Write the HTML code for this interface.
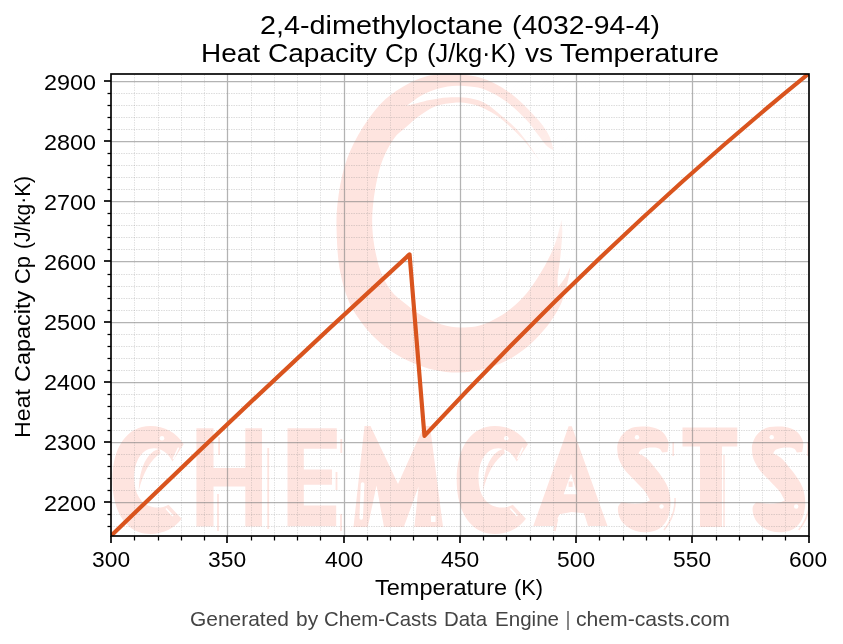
<!DOCTYPE html>
<html lang="en"><head><meta charset="utf-8"><title>2,4-dimethyloctane (4032-94-4) Heat Capacity Cp (J/kg·K) vs Temperature</title>
<style>
html,body{margin:0;padding:0;background:#fff;}
body{width:843px;height:644px;overflow:hidden;font-family:"Liberation Sans",sans-serif;}
svg{display:block;will-change:transform;}
svg text{font-family:"Liberation Sans",sans-serif;}
.tick{font-size:21.9px;fill:#000;}
.lab{font-size:21.9px;fill:#000;}
.ttl{font-size:25.5px;fill:#000;}
.foot{font-size:19.8px;fill:#444;}
</style></head><body>
<svg width="843" height="644" viewBox="0 0 843 644">
<rect x="0" y="0" width="843" height="644" fill="#ffffff"/>
<defs><clipPath id="axclip"><rect x="111" y="74" width="698" height="462"/></clipPath></defs>
<defs><filter id="soft" x="-2%" y="-2%" width="104%" height="104%"><feGaussianBlur stdDeviation="0.6"/></filter></defs>
<g id="watermark" clip-path="url(#axclip)"><g fill="#FEE4DF" filter="url(#soft)">
<path id="wm-logo" d="M553.5 150.0C552.8 147.6 551.6 140.5 549.0 135.4C546.4 130.3 543.4 126.0 537.8 119.6C532.2 113.2 522.7 103.2 515.2 97.0C507.7 90.8 500.2 86.0 492.7 82.4C485.2 78.8 478.3 76.9 470.0 75.6C461.7 74.3 450.5 74.3 443.0 74.5C435.5 74.7 431.8 74.7 425.0 76.8C418.2 78.9 410.0 82.3 402.5 86.9C395.0 91.5 387.4 96.5 380.0 104.5C372.6 112.5 364.1 124.7 358.2 135.1C352.3 145.5 347.9 155.4 344.5 166.7C341.1 178.0 338.9 191.5 337.6 202.8C336.3 214.1 336.3 223.1 336.7 234.4C337.1 245.7 337.8 259.1 339.9 270.4C342.0 281.7 345.2 293.0 349.1 302.0C353.0 311.0 358.3 318.1 363.0 324.5C367.7 330.9 372.4 335.6 377.5 340.3C382.6 345.0 387.6 349.0 393.5 352.8C399.4 356.6 406.3 360.1 413.2 363.0C420.1 365.9 427.1 368.4 434.6 370.0C442.1 371.6 450.4 372.7 458.3 372.6C466.2 372.5 474.1 371.5 482.0 369.6C489.9 367.7 498.2 364.8 505.7 361.0C513.2 357.2 520.8 352.0 527.1 346.9C533.4 341.8 539.0 335.8 543.7 330.3C548.5 324.8 552.4 318.8 555.6 313.7C558.8 308.6 560.6 305.2 562.7 299.5C564.8 293.8 567.0 284.7 568.3 279.2C569.6 273.7 570.1 268.5 570.5 266.4L570.5 266.4C569.7 268.2 567.5 273.6 565.5 277.0C563.5 280.4 559.4 285.3 558.2 287.0L558.2 287.0C558.1 285.7 557.2 284.4 557.6 279.0C558.0 273.6 559.8 262.4 560.6 254.6C561.4 246.8 562.1 237.8 562.3 232.0C562.4 226.2 561.6 221.8 561.5 219.7L561.5 219.7C560.6 223.2 558.5 233.8 556.0 241.0C553.5 248.2 550.7 254.8 546.4 262.8C542.1 270.8 535.2 282.0 530.0 289.0C524.8 296.0 520.4 300.3 515.2 305.0C510.0 309.7 504.5 313.6 498.6 317.0C492.7 320.4 485.9 323.9 479.6 325.6C473.3 327.4 467.0 327.7 460.7 327.5C454.4 327.3 448.0 326.3 441.7 324.4C435.4 322.5 428.6 319.5 422.7 316.1C416.8 312.7 411.5 308.6 406.1 304.2C400.7 299.8 394.9 296.0 390.5 290.0C386.1 284.0 382.4 277.3 379.5 268.0C376.6 258.7 373.8 245.3 372.8 234.4C371.8 223.5 372.0 214.2 373.3 202.8C374.6 191.4 377.2 176.5 380.5 166.0C383.8 155.5 388.6 146.6 393.0 140.0C397.4 133.4 402.4 130.5 407.0 126.3C411.6 122.1 415.7 118.4 420.6 115.0C425.5 111.6 430.7 108.0 436.3 106.0C441.9 104.0 448.8 103.1 454.4 102.7C460.0 102.3 465.1 102.9 470.0 103.8C474.9 104.7 478.8 106.0 483.7 108.3C488.6 110.6 494.1 113.7 499.4 117.6C504.6 121.5 510.3 126.8 515.2 131.6C520.1 136.4 524.7 141.5 528.8 146.4C532.9 151.3 538.1 158.6 540.0 161.0L540.0 161.0C537.9 157.9 531.3 147.7 527.2 142.2C523.1 136.7 519.5 132.2 515.2 127.8C511.0 123.4 506.6 120.0 501.7 116.0C496.8 112.0 491.3 106.8 486.0 103.8C480.7 100.8 476.4 99.3 470.0 98.2C463.6 97.1 454.3 97.1 447.6 97.4C440.9 97.7 436.5 98.6 429.6 100.0C422.8 101.4 410.4 105.0 406.5 106.0L406.5 106.0C409.6 103.9 418.1 96.9 425.0 93.6C431.9 90.3 440.1 87.6 447.6 86.4C455.1 85.2 463.6 85.8 470.0 86.4C476.4 87.0 479.9 87.5 485.9 90.0C491.9 92.5 499.4 96.5 506.2 101.5C513.0 106.5 521.2 114.5 526.5 120.0C531.8 125.5 534.4 130.2 537.8 134.5C541.2 138.8 544.2 143.4 546.8 146.0C549.4 148.6 552.4 149.3 553.5 150.0Z"/>
<defs><linearGradient id="tailfade" gradientUnits="userSpaceOnUse" x1="488" y1="98" x2="551" y2="161"><stop offset="0" stop-color="#fff" stop-opacity="0"/><stop offset="1" stop-color="#fff" stop-opacity="0.38"/></linearGradient><linearGradient id="tailfade2" gradientUnits="userSpaceOnUse" x1="556" y1="262" x2="562" y2="218"><stop offset="0" stop-color="#fff" stop-opacity="0"/><stop offset="1" stop-color="#fff" stop-opacity="0.55"/></linearGradient></defs>
<path d="M470 74H600V185H535Z" fill="url(#tailfade)"/>
<path d="M548 214H580V264H548Z" fill="url(#tailfade2)"/>
<g id="wm-word">
<path d="M183.6 444.2C176.5 432.5 164.5 426.0 150.5 426.0C126.5 426.0 112.4 448.0 112.4 480.0C112.4 512.0 126.5 534.0 150.5 534.0C164.0 534.0 175.0 528.0 181.6 518.8L168.5 504.7C163.5 507.5 158.0 508.2 152.5 507.0C141.0 504.5 134.2 494.0 134.2 478.0C134.2 461.0 142.0 448.2 154.0 448.2C161.5 448.2 168.0 453.0 172.5 461.4Z"/>
<path d="M196.4 428.2L213.5 428.2L213.5 468.0L245.3 468.0L245.3 428.2L262.0 428.2L262.0 526.5L245.3 526.5L245.3 486.6L213.5 486.6L213.5 526.5L196.4 526.5Z"/>
<path d="M219.1 437V455M218 494V531M268.2 448V529" fill="none" stroke="#FEE4DF" stroke-width="1.8"/>
<path d="M287.5 428.2L336.8 428.2L336.8 448.7L303.8 448.7L303.8 469.5L332.0 469.5L332.0 484.7L303.8 484.7L303.8 505.5L336.2 505.5L336.2 526.3L287.5 526.3Z"/>
<path d="M341.3 439V453M336.5 472V490M341 514V531" fill="none" stroke="#FEE4DF" stroke-width="1.8"/>
<path fill-rule="evenodd" d="M353.5 527.0L364.5 426.0L370.5 426.0L398.0 484.0L424.0 426.0L430.0 426.0L443.0 527.0ZM376.5 485.5L384.0 527.0L367.8 527.0ZM418.6 486.6L414.4 527.0L403.8 527.0Z"/>
<path d="M527.9 444.2C520.8 432.5 508.8 426.0 494.8 426.0C470.8 426.0 456.7 448.0 456.7 480.0C456.7 512.0 470.8 534.0 494.8 534.0C508.3 534.0 519.3 528.0 525.9 518.8L512.8 504.7C507.8 507.5 502.3 508.2 496.8 507.0C485.3 504.5 478.5 494.0 478.5 478.0C478.5 461.0 486.3 448.2 498.3 448.2C505.8 448.2 512.3 453.0 516.8 461.4Z"/>
<path fill-rule="evenodd" d="M533.3 526.0L568.6 426.3L571.8 426.3L607.5 526.0L588.0 526.0L584.0 513.2L571.5 512.0L559.5 514.2L554.0 526.0ZM571.0 473.3L577.2 494.3L563.7 494.3Z"/>
<path d="M568.6 481.5h4v5.4h-4z"/><path d="M557 519L554.5 531" fill="none" stroke-width="2.4" stroke="#FEE4DF"/>
<path d="M667.5 452.0C667.6 450.3 669.1 445.2 668.4 442.0C667.6 438.8 665.4 434.9 663.0 432.5C660.6 430.1 657.0 428.8 654.0 427.8C651.0 426.8 648.5 426.4 644.8 426.4C641.1 426.4 635.7 426.4 632.0 427.8C628.3 429.2 624.9 431.9 622.5 434.5C620.1 437.1 618.6 440.8 617.8 443.5C616.9 446.2 617.2 448.3 617.4 451.0C617.6 453.7 617.8 456.4 619.0 459.5C620.2 462.6 622.5 466.6 624.5 469.5C626.5 472.4 628.8 474.4 631.0 476.8C633.2 479.2 635.7 481.6 638.0 484.0C640.3 486.4 643.0 488.8 645.0 491.5C647.0 494.2 649.2 499.0 650.0 500.5L650.0 500.5C648.8 500.9 645.8 502.5 643.0 503.0C640.2 503.5 636.6 503.7 633.0 503.6C629.4 503.5 623.4 502.5 621.5 502.3L621.5 502.3C621.0 503.0 618.7 504.7 618.2 506.5C617.7 508.3 617.8 510.6 618.3 513.0C618.8 515.4 619.8 518.6 621.5 521.0C623.2 523.4 625.9 525.6 628.3 527.3C630.7 529.0 633.2 530.2 636.0 531.0C638.8 531.8 641.8 532.2 644.8 532.2C647.8 532.2 651.1 532.0 654.0 531.0C656.9 530.0 659.7 528.7 662.0 526.5C664.3 524.3 666.4 521.4 667.8 518.0C669.2 514.6 670.0 509.7 670.4 506.0C670.8 502.3 670.4 499.0 670.0 496.0C669.6 493.0 669.0 490.5 668.0 487.8C667.0 485.1 665.5 482.5 664.0 480.0C662.5 477.5 660.5 474.9 658.8 472.6C657.1 470.3 655.2 468.2 653.6 466.2C652.0 464.2 650.6 462.1 649.0 460.4C647.4 458.7 645.5 457.3 643.8 456.2C642.0 455.1 639.4 454.0 638.5 453.6L638.5 453.6C638.9 453.0 639.6 450.7 641.0 449.8C642.4 448.9 644.9 448.4 647.0 448.0C649.1 447.6 651.4 447.5 653.5 447.6C655.6 447.7 658.0 448.0 659.5 448.8C661.0 449.6 661.8 451.8 662.2 452.4Z"/>
<path d="M682.5 427.5L737.3 427.5L737.3 446.6L722.0 446.6L722.0 527.0L700.0 527.0L700.0 446.6L682.5 446.6Z"/>
<path d="M724 455V527" fill="none" stroke="#FEE4DF" stroke-width="1.5"/>
<path d="M802.2 452.0C802.4 450.3 803.8 445.2 803.1 442.0C802.3 438.8 800.1 434.9 797.7 432.5C795.3 430.1 791.7 428.8 788.7 427.8C785.7 426.8 783.2 426.4 779.5 426.4C775.8 426.4 770.4 426.4 766.7 427.8C763.0 429.2 759.6 431.9 757.2 434.5C754.8 437.1 753.4 440.8 752.5 443.5C751.6 446.2 751.9 448.3 752.1 451.0C752.3 453.7 752.5 456.4 753.7 459.5C754.9 462.6 757.2 466.6 759.2 469.5C761.2 472.4 763.5 474.4 765.7 476.8C768.0 479.2 770.4 481.6 772.7 484.0C775.0 486.4 777.7 488.8 779.7 491.5C781.7 494.2 783.9 499.0 784.7 500.5L784.7 500.5C783.5 500.9 780.5 502.5 777.7 503.0C774.9 503.5 771.3 503.7 767.7 503.6C764.1 503.5 758.1 502.5 756.2 502.3L756.2 502.3C755.7 503.0 753.4 504.7 752.9 506.5C752.4 508.3 752.5 510.6 753.0 513.0C753.5 515.4 754.5 518.6 756.2 521.0C757.9 523.4 760.6 525.6 763.0 527.3C765.4 529.0 768.0 530.2 770.7 531.0C773.5 531.8 776.5 532.2 779.5 532.2C782.5 532.2 785.8 532.0 788.7 531.0C791.6 530.0 794.4 528.7 796.7 526.5C799.0 524.3 801.1 521.4 802.5 518.0C803.9 514.6 804.7 509.7 805.1 506.0C805.5 502.3 805.1 499.0 804.7 496.0C804.3 493.0 803.7 490.5 802.7 487.8C801.7 485.1 800.2 482.5 798.7 480.0C797.2 477.5 795.2 474.9 793.5 472.6C791.8 470.3 789.9 468.2 788.3 466.2C786.7 464.2 785.3 462.1 783.7 460.4C782.1 458.7 780.2 457.3 778.5 456.2C776.8 455.1 774.1 454.0 773.2 453.6L773.2 453.6C773.6 453.0 774.3 450.7 775.7 449.8C777.1 448.9 779.6 448.4 781.7 448.0C783.8 447.6 786.1 447.5 788.2 447.6C790.3 447.7 792.8 448.0 794.2 448.8C795.7 449.6 796.5 451.8 796.9 452.4Z"/>
<g id="wm-hi" fill="#fff" stroke="none">
<circle cx="162.0" cy="438.2" r="2.3"/>
<path d="M159.5 448.6Q140.0 455 138.6 491Q145.5 463 160.5 453.2Z" fill="#FEE4DF"/>
<path d="M178.6 447.6L173.2 459" fill="none" stroke="#fff" stroke-width="1.5"/>
<path d="M173.0 516L166.0 508.5" fill="none" stroke="#fff" stroke-width="1.6"/>
<circle cx="506.3" cy="438.2" r="2.3"/>
<path d="M503.8 448.6Q484.3 455 482.9 491Q489.8 463 504.8 453.2Z" fill="#FEE4DF"/>
<path d="M522.9 447.6L517.5 459" fill="none" stroke="#fff" stroke-width="1.5"/>
<path d="M517.3 516L510.3 508.5" fill="none" stroke="#fff" stroke-width="1.6"/>
<circle cx="637.0" cy="437.3" r="2.2"/><circle cx="661.5" cy="506.5" r="2.2"/>
<path d="M673.2 442V456M675.0 498Q676.0 515 664.0 530" fill="none" stroke="#FEE4DF" stroke-width="1.6"/>
<circle cx="771.7" cy="437.3" r="2.2"/><circle cx="796.2" cy="506.5" r="2.2"/>
<path d="M807.9 442V456M809.7 498Q810.7 515 798.7 530" fill="none" stroke="#FEE4DF" stroke-width="1.6"/>
<path d="M362.6 484L361.2 518" fill="none" stroke="#fff" stroke-width="3.6" stroke-linecap="round"/><path d="M431 516h4.6v6h-4.6z"/>
<path d="M307 452.8h3v4h-3z"/>
</g>
</g>
</g></g>
<g id="grid-minor" stroke="#808080" stroke-width="1" stroke-dasharray="1.45 1.05" fill="none">
<path stroke-opacity="0.23" d="M134.5 536V74M158.5 536V74M181.5 536V74M204.5 536V74M251.5 536V74M274.5 536V74M297.5 536V74M320.5 536V74M367.5 536V74M390.5 536V74M413.5 536V74M437.5 536V74M483.5 536V74M506.5 536V74M530.5 536V74M553.5 536V74M599.5 536V74M623.5 536V74M646.5 536V74M669.5 536V74M716.5 536V74M739.5 536V74M762.5 536V74M785.5 536V74"/>
<path stroke-opacity="0.275" d="M111 93.5H809M111 105.5H809M111 117.5H809M111 129.5H809M111 153.5H809M111 165.5H809M111 177.5H809M111 189.5H809M111 213.5H809M111 225.5H809M111 237.5H809M111 249.5H809M111 274.5H809M111 286.5H809M111 298.5H809M111 310.5H809M111 334.5H809M111 346.5H809M111 358.5H809M111 370.5H809M111 394.5H809M111 406.5H809M111 418.5H809M111 430.5H809M111 454.5H809M111 466.5H809M111 478.5H809M111 490.5H809M111 514.5H809M111 526.5H809"/>
</g>
<g id="grid-major" stroke="#808080" stroke-opacity="0.60" stroke-width="1.25" fill="none">
<path d="M227.5 536V74M344.5 536V74M460.5 536V74M576.5 536V74M692.5 536V74M111 81.5H809M111 141.5H809M111 201.5H809M111 261.5H809M111 322.5H809M111 382.5H809M111 442.5H809M111 502.5H809"/>
</g>
<path id="series" d="M108.04 538.63L111.04 535.80Q260.31 391.09 409.57 254.38L424.45 435.86Q616.50 229.63 808.54 73.80L811.54 71.40" fill="none" stroke="#D9541E" stroke-width="4.17" stroke-linejoin="round" stroke-linecap="butt" clip-path="url(#axclip)"/>
<g id="ticks" fill="#000" stroke="none">
<path d="M110.165 536.000h1.670v7.000h-1.670zM226.165 536.000h1.670v7.000h-1.670zM343.165 536.000h1.670v7.000h-1.670zM459.165 536.000h1.670v7.000h-1.670zM575.165 536.000h1.670v7.000h-1.670zM691.165 536.000h1.670v7.000h-1.670zM808.165 536.000h1.670v7.000h-1.670zM133.875 536.000h1.250v4.500h-1.250zM157.875 536.000h1.250v4.500h-1.250zM180.875 536.000h1.250v4.500h-1.250zM203.875 536.000h1.250v4.500h-1.250zM250.875 536.000h1.250v4.500h-1.250zM273.875 536.000h1.250v4.500h-1.250zM296.875 536.000h1.250v4.500h-1.250zM319.875 536.000h1.250v4.500h-1.250zM366.875 536.000h1.250v4.500h-1.250zM389.875 536.000h1.250v4.500h-1.250zM412.875 536.000h1.250v4.500h-1.250zM436.875 536.000h1.250v4.500h-1.250zM482.875 536.000h1.250v4.500h-1.250zM505.875 536.000h1.250v4.500h-1.250zM529.875 536.000h1.250v4.500h-1.250zM552.875 536.000h1.250v4.500h-1.250zM598.875 536.000h1.250v4.500h-1.250zM622.875 536.000h1.250v4.500h-1.250zM645.875 536.000h1.250v4.500h-1.250zM668.875 536.000h1.250v4.500h-1.250zM715.875 536.000h1.250v4.500h-1.250zM738.875 536.000h1.250v4.500h-1.250zM761.875 536.000h1.250v4.500h-1.250zM784.875 536.000h1.250v4.500h-1.250z"/>
<path fill-opacity="0.835" d="M104.000 80.000h7.000v2.000h-7.000zM104.000 140.000h7.000v2.000h-7.000zM104.000 200.000h7.000v2.000h-7.000zM104.000 260.000h7.000v2.000h-7.000zM104.000 321.000h7.000v2.000h-7.000zM104.000 381.000h7.000v2.000h-7.000zM104.000 441.000h7.000v2.000h-7.000zM104.000 501.000h7.000v2.000h-7.000z"/>
<path d="M107.500 93.000h3.500v1.000h-3.500zM107.500 105.000h3.500v1.000h-3.500zM107.500 117.000h3.500v1.000h-3.500zM107.500 129.000h3.500v1.000h-3.500zM107.500 153.000h3.500v1.000h-3.500zM107.500 165.000h3.500v1.000h-3.500zM107.500 177.000h3.500v1.000h-3.500zM107.500 189.000h3.500v1.000h-3.500zM107.500 213.000h3.500v1.000h-3.500zM107.500 225.000h3.500v1.000h-3.500zM107.500 237.000h3.500v1.000h-3.500zM107.500 249.000h3.500v1.000h-3.500zM107.500 274.000h3.500v1.000h-3.500zM107.500 286.000h3.500v1.000h-3.500zM107.500 298.000h3.500v1.000h-3.500zM107.500 310.000h3.500v1.000h-3.500zM107.500 334.000h3.500v1.000h-3.500zM107.500 346.000h3.500v1.000h-3.500zM107.500 358.000h3.500v1.000h-3.500zM107.500 370.000h3.500v1.000h-3.500zM107.500 394.000h3.500v1.000h-3.500zM107.500 406.000h3.500v1.000h-3.500zM107.500 418.000h3.500v1.000h-3.500zM107.500 430.000h3.500v1.000h-3.500zM107.500 454.000h3.500v1.000h-3.500zM107.500 466.000h3.500v1.000h-3.500zM107.500 478.000h3.500v1.000h-3.500zM107.500 490.000h3.500v1.000h-3.500zM107.500 514.000h3.500v1.000h-3.500zM107.500 526.000h3.500v1.000h-3.500z"/>
<path fill-opacity="0.125" d="M107.500 92.000h3.500v1.000h-3.500zM107.500 94.000h3.500v1.000h-3.500zM107.500 104.000h3.500v1.000h-3.500zM107.500 106.000h3.500v1.000h-3.500zM107.500 116.000h3.500v1.000h-3.500zM107.500 118.000h3.500v1.000h-3.500zM107.500 128.000h3.500v1.000h-3.500zM107.500 130.000h3.500v1.000h-3.500zM107.500 152.000h3.500v1.000h-3.500zM107.500 154.000h3.500v1.000h-3.500zM107.500 164.000h3.500v1.000h-3.500zM107.500 166.000h3.500v1.000h-3.500zM107.500 176.000h3.500v1.000h-3.500zM107.500 178.000h3.500v1.000h-3.500zM107.500 188.000h3.500v1.000h-3.500zM107.500 190.000h3.500v1.000h-3.500zM107.500 212.000h3.500v1.000h-3.500zM107.500 214.000h3.500v1.000h-3.500zM107.500 224.000h3.500v1.000h-3.500zM107.500 226.000h3.500v1.000h-3.500zM107.500 236.000h3.500v1.000h-3.500zM107.500 238.000h3.500v1.000h-3.500zM107.500 248.000h3.500v1.000h-3.500zM107.500 250.000h3.500v1.000h-3.500zM107.500 273.000h3.500v1.000h-3.500zM107.500 275.000h3.500v1.000h-3.500zM107.500 285.000h3.500v1.000h-3.500zM107.500 287.000h3.500v1.000h-3.500zM107.500 297.000h3.500v1.000h-3.500zM107.500 299.000h3.500v1.000h-3.500zM107.500 309.000h3.500v1.000h-3.500zM107.500 311.000h3.500v1.000h-3.500zM107.500 333.000h3.500v1.000h-3.500zM107.500 335.000h3.500v1.000h-3.500zM107.500 345.000h3.500v1.000h-3.500zM107.500 347.000h3.500v1.000h-3.500zM107.500 357.000h3.500v1.000h-3.500zM107.500 359.000h3.500v1.000h-3.500zM107.500 369.000h3.500v1.000h-3.500zM107.500 371.000h3.500v1.000h-3.500zM107.500 393.000h3.500v1.000h-3.500zM107.500 395.000h3.500v1.000h-3.500zM107.500 405.000h3.500v1.000h-3.500zM107.500 407.000h3.500v1.000h-3.500zM107.500 417.000h3.500v1.000h-3.500zM107.500 419.000h3.500v1.000h-3.500zM107.500 429.000h3.500v1.000h-3.500zM107.500 431.000h3.500v1.000h-3.500zM107.500 453.000h3.500v1.000h-3.500zM107.500 455.000h3.500v1.000h-3.500zM107.500 465.000h3.500v1.000h-3.500zM107.500 467.000h3.500v1.000h-3.500zM107.500 477.000h3.500v1.000h-3.500zM107.500 479.000h3.500v1.000h-3.500zM107.500 489.000h3.500v1.000h-3.500zM107.500 491.000h3.500v1.000h-3.500zM107.500 513.000h3.500v1.000h-3.500zM107.500 515.000h3.500v1.000h-3.500zM107.500 525.000h3.500v1.000h-3.500zM107.500 527.000h3.500v1.000h-3.500z"/>
</g>
<rect id="spines" x="111" y="74" width="698" height="462" fill="none" stroke="#000" stroke-width="1.67" stroke-linejoin="miter"/>
<text class="ttl" y="34.00" xml:space="preserve"><tspan x="260.00" textLength="243.00" lengthAdjust="spacingAndGlyphs">2,4-dimethyloctane</tspan> <tspan x="512.00" textLength="148.00" lengthAdjust="spacingAndGlyphs">(4032-94-4)</tspan></text>
<text class="ttl" y="62.00" xml:space="preserve"><tspan x="201.00" textLength="59.00" lengthAdjust="spacingAndGlyphs">Heat</tspan> <tspan x="268.01" textLength="109.09" lengthAdjust="spacingAndGlyphs">Capacity</tspan> <tspan x="385.00" textLength="33.03" lengthAdjust="spacingAndGlyphs">Cp</tspan> <tspan x="427.00" textLength="89.00" lengthAdjust="spacingAndGlyphs">(J/kg·K)</tspan> <tspan x="525.00" textLength="28.11" lengthAdjust="spacingAndGlyphs">vs</tspan> <tspan x="560.00" textLength="159.09" lengthAdjust="spacingAndGlyphs">Temperature</tspan></text>
<text class="lab" y="595.00" xml:space="preserve"><tspan x="375.00" textLength="132.10" lengthAdjust="spacingAndGlyphs">Temperature</tspan> <tspan x="514.00" textLength="29.00" lengthAdjust="spacingAndGlyphs">(K)</tspan></text>
<text class="foot" y="626.00" xml:space="preserve"><tspan x="190.00" textLength="99.00" lengthAdjust="spacingAndGlyphs">Generated</tspan> <tspan x="296.04" textLength="22.11" lengthAdjust="spacingAndGlyphs">by</tspan> <tspan x="324.01" textLength="113.09" lengthAdjust="spacingAndGlyphs">Chem-Casts</tspan> <tspan x="444.02" textLength="43.13" lengthAdjust="spacingAndGlyphs">Data</tspan> <tspan x="495.00" textLength="64.00" lengthAdjust="spacingAndGlyphs">Engine</tspan> <tspan x="566.00" textLength="4.00" lengthAdjust="spacingAndGlyphs">|</tspan> <tspan x="575.99" textLength="154.01" lengthAdjust="spacingAndGlyphs">chem-casts.com</tspan></text>
<text class="tick" y="567.00" xml:space="preserve"><tspan x="92.02" textLength="38.08" lengthAdjust="spacingAndGlyphs">300</tspan></text>
<text class="tick" y="567.00" xml:space="preserve"><tspan x="208.02" textLength="38.08" lengthAdjust="spacingAndGlyphs">350</tspan></text>
<text class="tick" y="567.00" xml:space="preserve"><tspan x="325.00" textLength="38.20" lengthAdjust="spacingAndGlyphs">400</tspan></text>
<text class="tick" y="567.00" xml:space="preserve"><tspan x="441.00" textLength="38.20" lengthAdjust="spacingAndGlyphs">450</tspan></text>
<text class="tick" y="567.00" xml:space="preserve"><tspan x="557.02" textLength="38.08" lengthAdjust="spacingAndGlyphs">500</tspan></text>
<text class="tick" y="567.00" xml:space="preserve"><tspan x="673.02" textLength="38.08" lengthAdjust="spacingAndGlyphs">550</tspan></text>
<text class="tick" y="567.00" xml:space="preserve"><tspan x="789.02" textLength="38.08" lengthAdjust="spacingAndGlyphs">600</tspan></text>
<text class="tick" y="90.00" xml:space="preserve"><tspan x="44.00" textLength="52.02" lengthAdjust="spacingAndGlyphs">2900</tspan></text>
<text class="tick" y="150.00" xml:space="preserve"><tspan x="44.00" textLength="52.02" lengthAdjust="spacingAndGlyphs">2800</tspan></text>
<text class="tick" y="210.00" xml:space="preserve"><tspan x="44.00" textLength="52.02" lengthAdjust="spacingAndGlyphs">2700</tspan></text>
<text class="tick" y="270.00" xml:space="preserve"><tspan x="44.00" textLength="52.02" lengthAdjust="spacingAndGlyphs">2600</tspan></text>
<text class="tick" y="330.00" xml:space="preserve"><tspan x="44.00" textLength="52.02" lengthAdjust="spacingAndGlyphs">2500</tspan></text>
<text class="tick" y="390.00" xml:space="preserve"><tspan x="44.00" textLength="52.02" lengthAdjust="spacingAndGlyphs">2400</tspan></text>
<text class="tick" y="450.00" xml:space="preserve"><tspan x="44.00" textLength="52.02" lengthAdjust="spacingAndGlyphs">2300</tspan></text>
<text class="tick" y="511.00" xml:space="preserve"><tspan x="44.00" textLength="52.02" lengthAdjust="spacingAndGlyphs">2200</tspan></text>
<g transform="translate(30.00 0) rotate(-90)"><text class="lab" y="0.00" xml:space="preserve"><tspan x="-438.00" textLength="49.00" lengthAdjust="spacingAndGlyphs">Heat</tspan> <tspan x="-381.99" textLength="91.09" lengthAdjust="spacingAndGlyphs">Capacity</tspan> <tspan x="-284.00" textLength="28.00" lengthAdjust="spacingAndGlyphs">Cp</tspan> <tspan x="-249.00" textLength="73.00" lengthAdjust="spacingAndGlyphs">(J/kg·K)</tspan></text></g>
</svg>
</body></html>
